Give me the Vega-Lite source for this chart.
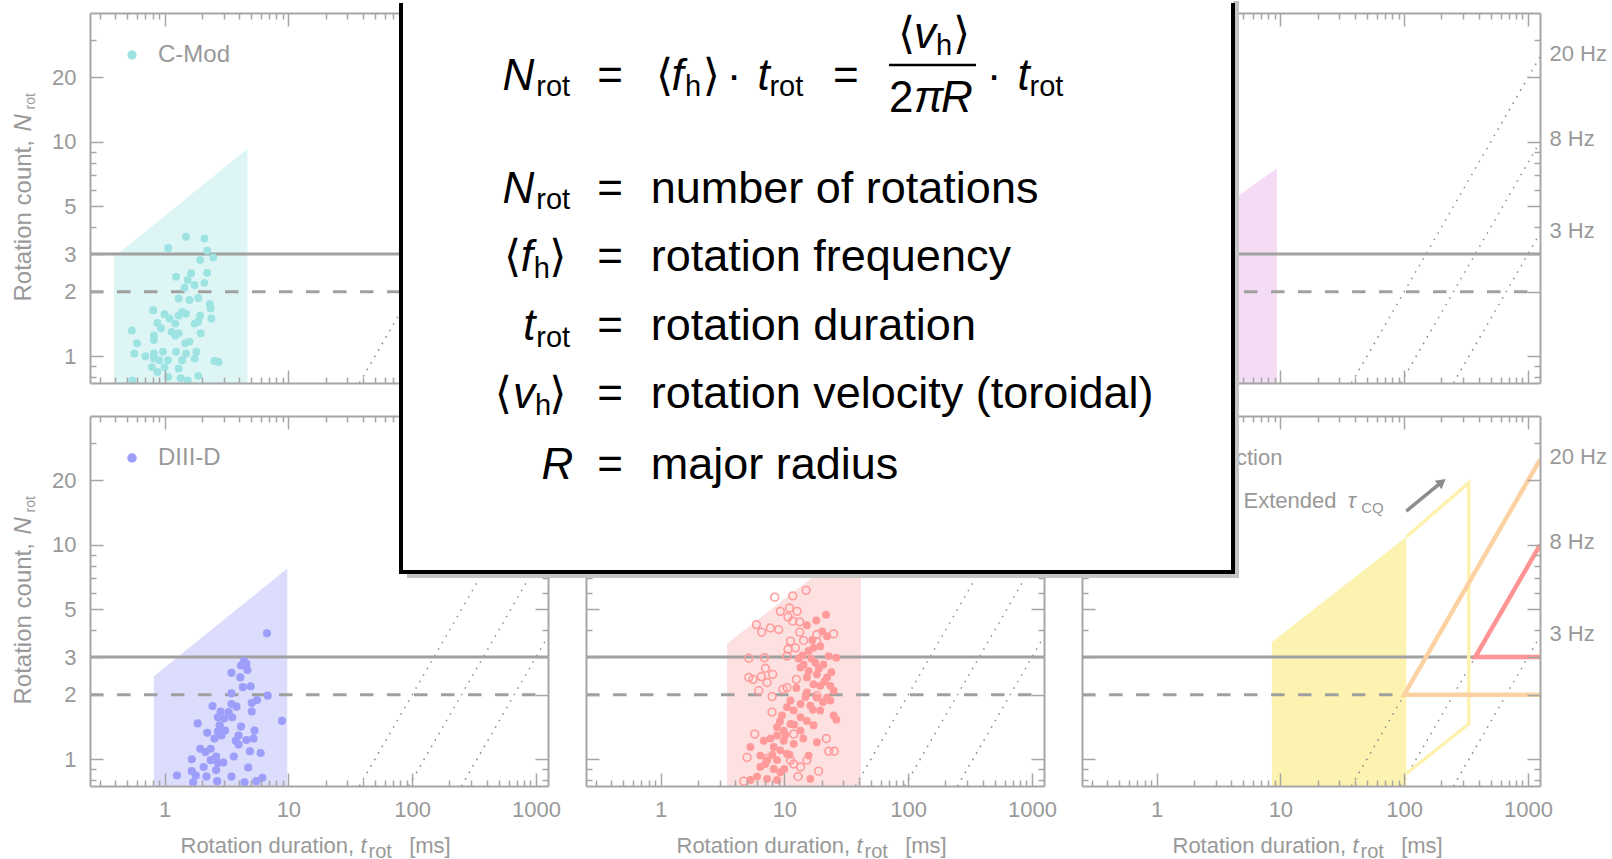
{
"$schema":"https://vega.github.io/schema/vega-lite/v6.json",
"background":"white",
"padding":{"left":11,"top":0,"right":0,"bottom":0},
"config":{"view":{"stroke":null},"font":"Liberation Sans",
 "axis":{"domainColor":"#a6a6a6","domainWidth":2,"tickColor":"#a6a6a6","tickWidth":1.5,"labelColor":"#999999","titleColor":"#999999","labelFont":"Liberation Sans","titleFont":"Liberation Sans","titleFontWeight":"normal","grid":false,"labelFlush":false,"labelOverlap":false}},
"datasets":{
 "hlines":[{"n":3,"style":"solid"},{"n":2,"style":"dashed"}],
 "freq":[{"f":"20 Hz","t":37.5,"n":0.75},{"f":"20 Hz","t":1250,"n":25},{"f":"8 Hz","t":93.75,"n":0.75},{"f":"8 Hz","t":1250,"n":10},{"f":"3 Hz","t":250,"n":0.75},{"f":"3 Hz","t":1250,"n":3.75}],
 "cmodArea":[{"t":0.39,"n":2.9},{"t":4.67,"n":9.3}],
 "cmod":[{"t":1.49,"n":3.61},{"t":2.10,"n":3.54},{"t":1.07,"n":3.20},{"t":2.21,"n":3.11},{"t":2.48,"n":2.89},{"t":1.94,"n":2.81},{"t":1.24,"n":2.35},{"t":1.64,"n":2.44},{"t":2.21,"n":2.45},{"t":1.54,"n":2.27},{"t":2.10,"n":2.20},{"t":1.75,"n":2.15},{"t":1.45,"n":2.09},{"t":1.30,"n":1.86},{"t":1.87,"n":1.87},{"t":1.59,"n":1.83},{"t":2.32,"n":1.75},{"t":2.36,"n":1.67},{"t":0.81,"n":1.64},{"t":1.00,"n":1.57},{"t":1.39,"n":1.61},{"t":1.30,"n":1.55},{"t":1.49,"n":1.58},{"t":1.94,"n":1.55},{"t":1.10,"n":1.50},{"t":2.39,"n":1.50},{"t":0.876,"n":1.43},{"t":1.87,"n":1.45},{"t":1.75,"n":1.42},{"t":1.22,"n":1.42},{"t":0.936,"n":1.35},{"t":0.544,"n":1.32},{"t":1.14,"n":1.30},{"t":1.30,"n":1.28},{"t":0.82,"n":1.25},{"t":1.22,"n":1.25},{"t":1.96,"n":1.28},{"t":0.82,"n":1.19},{"t":1.47,"n":1.15},{"t":1.59,"n":1.17},{"t":0.60,"n":1.15},{"t":0.57,"n":1.03},{"t":0.70,"n":1.00},{"t":0.82,"n":1.03},{"t":0.97,"n":1.05},{"t":1.24,"n":1.05},{"t":1.49,"n":1.03},{"t":1.81,"n":1.05},{"t":0.82,"n":0.975},{"t":0.906,"n":0.958},{"t":1.07,"n":0.958},{"t":1.39,"n":0.958},{"t":1.75,"n":0.975},{"t":2.53,"n":0.951},{"t":2.73,"n":0.941},{"t":0.79,"n":0.89},{"t":1.00,"n":0.89},{"t":0.876,"n":0.845},{"t":1.30,"n":0.876},{"t":0.55,"n":0.77},{"t":1.07,"n":0.80},{"t":1.35,"n":0.79},{"t":1.87,"n":0.81},{"t":1.54,"n":0.77}],
 "diiidArea":[{"t":0.82,"n":2.44},{"t":9.8,"n":7.76}],
 "diiid":[{"t":6.72,"n":3.87},{"t":4.37,"n":2.87},{"t":4.58,"n":2.79},{"t":4.15,"n":2.74},{"t":4.67,"n":2.61},{"t":3.47,"n":2.53},{"t":4.09,"n":2.41},{"t":4.29,"n":2.17},{"t":4.96,"n":2.19},{"t":3.47,"n":2.03},{"t":6.81,"n":1.98},{"t":5.59,"n":1.89},{"t":5.06,"n":1.83},{"t":2.44,"n":1.77},{"t":3.81,"n":1.76},{"t":3.47,"n":1.81},{"t":2.84,"n":1.67},{"t":3.29,"n":1.66},{"t":5.06,"n":1.67},{"t":2.70,"n":1.57},{"t":3.04,"n":1.55},{"t":3.52,"n":1.57},{"t":8.88,"n":1.51},{"t":1.85,"n":1.47},{"t":2.79,"n":1.44},{"t":4.15,"n":1.42},{"t":3.08,"n":1.36},{"t":2.70,"n":1.35},{"t":5.33,"n":1.36},{"t":2.21,"n":1.33},{"t":3.96,"n":1.29},{"t":2.88,"n":1.29},{"t":2.53,"n":1.25},{"t":3.76,"n":1.22},{"t":4.58,"n":1.23},{"t":5.23,"n":1.25},{"t":3.96,"n":1.17},{"t":1.94,"n":1.12},{"t":2.36,"n":1.12},{"t":4.89,"n":1.09},{"t":5.97,"n":1.07},{"t":2.14,"n":1.08},{"t":3.63,"n":1.03},{"t":2.61,"n":1.03},{"t":2.36,"n":0.99},{"t":1.66,"n":1.0},{"t":2.70,"n":0.96},{"t":2.98,"n":0.965},{"t":2.07,"n":0.92},{"t":4.74,"n":0.915},{"t":1.66,"n":0.88},{"t":2.61,"n":0.89},{"t":1.26,"n":0.84},{"t":1.79,"n":0.84},{"t":2.18,"n":0.83},{"t":3.47,"n":0.83},{"t":6.17,"n":0.82},{"t":2.66,"n":0.79},{"t":1.70,"n":0.78},{"t":4.43,"n":0.78},{"t":5.51,"n":0.79}],
 "midArea":[{"t":3.45,"n":3.47},{"t":41.5,"n":10.6}],
 "midOpen":[{"t":8.36,"n":5.71},{"t":11.7,"n":5.79},{"t":15.0,"n":6.14},{"t":9.28,"n":4.90},{"t":11.0,"n":5.08},{"t":12.65,"n":4.90},{"t":10.7,"n":4.61},{"t":11.7,"n":4.41},{"t":13.3,"n":4.38},{"t":5.95,"n":4.25},{"t":6.56,"n":3.92},{"t":7.71,"n":4.10},{"t":9.00,"n":4.03},{"t":13.3,"n":3.92},{"t":11.2,"n":3.56},{"t":14.3,"n":3.58},{"t":18.3,"n":3.82},{"t":25.0,"n":3.85},{"t":10.7,"n":3.26},{"t":12.3,"n":3.31},{"t":10.5,"n":3.03},{"t":5.16,"n":2.96},{"t":6.90,"n":2.98},{"t":18.3,"n":3.53},{"t":5.16,"n":2.41},{"t":5.59,"n":2.36},{"t":6.52,"n":2.43},{"t":8.05,"n":2.49},{"t":7.03,"n":2.66},{"t":7.25,"n":2.28},{"t":6.21,"n":2.09},{"t":12.5,"n":2.36},{"t":10.5,"n":2.16},{"t":9.75,"n":2.12},{"t":18.3,"n":1.98},{"t":7.96,"n":1.96},{"t":7.96,"n":1.66},{"t":5.76,"n":1.31},{"t":11.9,"n":1.31},{"t":21.8,"n":1.25},{"t":5.00,"n":1.02},{"t":22.8,"n":1.09},{"t":25.3,"n":1.09},{"t":18.9,"n":0.88},{"t":12.9,"n":0.83},{"t":4.70,"n":0.79},{"t":15.2,"n":0.99},{"t":7.25,"n":1.01},{"t":11.9,"n":0.95},{"t":13.5,"n":0.92},{"t":11.2,"n":0.99}],
 "midFilled":[{"t":21.7,"n":4.73},{"t":18.1,"n":4.44},{"t":15.2,"n":4.22},{"t":22.1,"n":3.75},{"t":17.2,"n":3.31},{"t":19.5,"n":3.37},{"t":15.7,"n":3.20},{"t":22.8,"n":3.03},{"t":26.3,"n":2.98},{"t":14.3,"n":2.77},{"t":17.8,"n":2.82},{"t":20.7,"n":2.77},{"t":13.5,"n":2.68},{"t":15.7,"n":2.58},{"t":18.3,"n":2.49},{"t":22.1,"n":2.41},{"t":15.2,"n":2.41},{"t":17.2,"n":2.24},{"t":19.5,"n":2.20},{"t":23.5,"n":2.20},{"t":25.0,"n":2.09},{"t":15.2,"n":2.05},{"t":18.3,"n":1.94},{"t":22.1,"n":1.94},{"t":23.5,"n":1.88},{"t":11.2,"n":1.88},{"t":13.5,"n":1.81},{"t":16.2,"n":1.78},{"t":10.5,"n":1.75},{"t":11.9,"n":1.69},{"t":19.5,"n":1.69},{"t":25.0,"n":1.60},{"t":26.3,"n":1.53},{"t":9.57,"n":1.60},{"t":13.5,"n":1.57},{"t":15.2,"n":1.51},{"t":17.2,"n":1.44},{"t":11.2,"n":1.46},{"t":8.73,"n":1.41},{"t":9.88,"n":1.36},{"t":13.5,"n":1.36},{"t":8.73,"n":1.29},{"t":7.71,"n":1.25},{"t":6.81,"n":1.22},{"t":9.88,"n":1.22},{"t":11.9,"n":1.18},{"t":18.3,"n":1.20},{"t":8.20,"n":1.14},{"t":9.28,"n":1.10},{"t":10.5,"n":1.06},{"t":6.40,"n":1.04},{"t":7.25,"n":0.99},{"t":8.73,"n":0.99},{"t":15.7,"n":1.04},{"t":5.32,"n":1.14},{"t":6.40,"n":0.92},{"t":8.20,"n":0.90},{"t":9.28,"n":0.87},{"t":6.02,"n":0.83},{"t":7.25,"n":0.81},{"t":8.73,"n":0.80},{"t":16.2,"n":0.81},{"t":5.32,"n":0.80},{"t":28.3,"n":7.33},{"t":14.0,"n":3.05},{"t":16.5,"n":2.95},{"t":19.0,"n":2.65},{"t":21.0,"n":2.30},{"t":12.5,"n":2.15},{"t":14.8,"n":1.95},{"t":17.0,"n":1.70},{"t":20.5,"n":1.85},{"t":12.0,"n":1.45},{"t":14.2,"n":1.25},{"t":10.2,"n":1.30},{"t":9.2,"n":1.50},{"t":11.0,"n":1.05},{"t":8.0,"n":1.05},{"t":7.0,"n":0.95},{"t":10.0,"n":0.90},{"t":16.8,"n":3.60},{"t":20.2,"n":3.95},{"t":24.0,"n":2.55},{"t":13.0,"n":2.95}],
 "pinkArea":[{"t":1.0,"n":3.0},{"t":9.4,"n":7.54}],
 "iterArea":[{"t":8.55,"n":3.53},{"t":104,"n":10.9}],
 "iterOutline":[{"i":1,"t":104,"n":10.9},{"i":2,"t":332,"n":19.5},{"i":3,"t":332,"n":1.46},{"i":4,"t":104,"n":0.857}],
 "iterLines":[{"hz":"20 Hz","i":1,"t":1250,"n":2},{"hz":"20 Hz","i":2,"t":100,"n":2},{"hz":"20 Hz","i":3,"t":1250,"n":25},{"hz":"8 Hz","i":1,"t":1250,"n":3},{"hz":"8 Hz","i":2,"t":375,"n":3},{"hz":"8 Hz","i":3,"t":1250,"n":10}],
 "arrow":[{"t":104,"n":14.4},{"t":201.6,"n":19.7}],
 "arrowHead":[{"t":201.6,"n":19.7}],
 "iterText":[{"text":"Extended","t":5.04,"n":14.9},{"text":"τ","t":35,"n":14.9},{"text":"CQ","t":45,"n":14.1}],
 "iterLabel":[{"label":"ITER projection","dotT":0.40,"t":0.62,"n":25.5}],
 "boxShadow":[{"x":6,"x2":838,"y":2,"y2":579}],
 "boxRect":[{"x":0,"x2":832,"y":2,"y2":573}],
 "boxBorder":[{"x":0,"x2":0,"y":4,"y2":575},{"x":832,"x2":832,"y":4,"y2":575},{"x":-2,"x2":834,"y":573,"y2":573}],
 "boxRule":[{"x":488,"x2":575,"y":66}],
 "boxText":[
  {"k":"it","s":"N","x":101.4,"y":91},{"k":"sub","s":"rot","x":135.3,"y":97},{"k":"eq","s":"=","x":209,"y":91},
  {"k":"br","s":"⟨","x":254.9,"y":91},{"k":"it","s":"f","x":270.5,"y":91},{"k":"sub","s":"h","x":284,"y":97},{"k":"br","s":"⟩","x":301.8,"y":91},
  {"k":"eq","s":"·","x":333,"y":91},{"k":"it","s":"t","x":356.4,"y":91},{"k":"sub","s":"rot","x":368.4,"y":97},{"k":"eq","s":"=","x":444.9,"y":91},
  {"k":"br","s":"⟨","x":496.9,"y":49.4},{"k":"it","s":"v","x":513,"y":49.4},{"k":"sub","s":"h","x":535,"y":56},{"k":"br","s":"⟩","x":552,"y":49.4},
  {"k":"rm","s":"2","x":488,"y":113},{"k":"it","s":"π","x":513,"y":113},{"k":"it","s":"R","x":540,"y":113},
  {"k":"eq","s":"·","x":593,"y":91},{"k":"it","s":"t","x":616.5,"y":91},{"k":"sub","s":"rot","x":628.5,"y":97},
  {"k":"it","s":"N","x":101.4,"y":203.5},{"k":"sub","s":"rot","x":135.3,"y":210},{"k":"eq","s":"=","x":209,"y":203.5},{"k":"def","s":"number of rotations","x":249.7,"y":203.5},
  {"k":"br","s":"⟨","x":102.9,"y":272},{"k":"it","s":"f","x":119.7,"y":272},{"k":"sub","s":"h","x":132.7,"y":279},{"k":"br","s":"⟩","x":148.3,"y":272},{"k":"eq","s":"=","x":209,"y":272},{"k":"def","s":"rotation frequency","x":249.7,"y":272},
  {"k":"it","s":"t","x":122.3,"y":341.4},{"k":"sub","s":"rot","x":135.3,"y":348},{"k":"eq","s":"=","x":209,"y":341.4},{"k":"def","s":"rotation duration","x":249.7,"y":341.4},
  {"k":"br","s":"⟨","x":93.7,"y":409},{"k":"it","s":"v","x":111.9,"y":409},{"k":"sub","s":"h","x":134,"y":416},{"k":"br","s":"⟩","x":148.3,"y":409},{"k":"eq","s":"=","x":209,"y":409},{"k":"def","s":"rotation velocity (toroidal)","x":249.7,"y":409},
  {"k":"it","s":"R","x":140.5,"y":480},{"k":"eq","s":"=","x":209,"y":480},{"k":"def","s":"major radius","x":249.7,"y":480}
 ]
},
"concat":[
  {"width":458,"height":370,"resolve":{"axis":{"x":"independent","y":"independent"}},
   "layer":[
    {"data":{"name":"cmodArea"},"mark":{"type":"area","color":"#ddf5f5","clip":true},"encoding":{"x":{"field":"t","type":"quantitative","scale":{"type":"log","domain":[0.25,1250],"nice":false},"axis":{"orient":"bottom","values":[0.3,0.4,0.5,0.6,0.7,0.8,0.9,1,2,3,4,5,6,7,8,9,10,20,30,40,50,60,70,80,90,100,200,300,400,500,600,700,800,900,1000],"labels":false,"title":null,"zindex":1,"tickSize":{"condition":{"test":"indexof([1,10,100,1000], datum.value) >= 0","value":-13},"value":-6}}},"y":{"field":"n","type":"quantitative","scale":{"type":"log","domain":[0.75,40],"nice":false},"axis":{"orient":"left","values":[0.8,0.9,1,2,3,4,5,6,7,8,9,10,20,30],"labels":false,"title":null,"zindex":1,"tickSize":{"condition":{"test":"indexof([1,2,3,5,10,20], datum.value) >= 0","value":-13},"value":-6}}},"y2":{"datum":0.5}}},
    {"data":{"name":"freq"},"mark":{"type":"line","color":"#8a8a8a","strokeWidth":1.5,"strokeDash":[1.5,6],"clip":true},"encoding":{"x":{"field":"t","type":"quantitative","axis":{"orient":"top","values":[0.3,0.4,0.5,0.6,0.7,0.8,0.9,1,2,3,4,5,6,7,8,9,10,20,30,40,50,60,70,80,90,100,200,300,400,500,600,700,800,900,1000],"labels":false,"title":null,"zindex":1,"tickSize":{"condition":{"test":"indexof([1,10,100,1000], datum.value) >= 0","value":-13},"value":-6}}},"y":{"field":"n","type":"quantitative","axis":{"orient":"right","values":[0.8,0.9,1,2,3,4,5,6,7,8,9,10,20,30],"labels":false,"title":null,"zindex":1,"tickSize":{"condition":{"test":"indexof([1,2,3,5,10,20], datum.value) >= 0","value":-13},"value":-6}}},"detail":{"field":"f"}}},
    {"data":{"name":"hlines"},"transform":[{"filter":"datum.style == 'solid'"}],"mark":{"type":"rule","color":"#a0a0a0","strokeWidth":3},"encoding":{"x":{"datum":0.25,"type":"quantitative","axis":null},"x2":{"datum":1250},"y":{"field":"n","type":"quantitative","axis":{"orient":"left","values":[1,2,3,5,10,20],"ticks":false,"domain":false,"labelPadding":14,"labelFontSize":22,"labelExpr":"'' + datum.value","title":"Rotation count,","titleX":-60,"titleY":288,"titleAngle":270,"titleAlign":"left","titleBaseline":"alphabetic","titleFontSize":24}}}},
    {"data":{"name":"hlines"},"transform":[{"filter":"datum.style == 'dashed'"}],"mark":{"type":"rule","color":"#a0a0a0","strokeWidth":3,"strokeDash":[13.5,13.5]},"encoding":{"x":{"datum":0.25,"type":"quantitative","axis":null},"x2":{"datum":1250},"y":{"field":"n","type":"quantitative","axis":{"orient":"left","values":[],"labels":false,"ticks":false,"domain":false,"title":"rot","titleX":-56,"titleY":96,"titleAngle":270,"titleAlign":"left","titleBaseline":"alphabetic","titleFontSize":14}}}},
    {"data":{"name":"cmod"},"mark":{"type":"circle","size":62,"opacity":1,"clip":true},"encoding":{"x":{"field":"t","type":"quantitative","axis":null},"y":{"field":"n","type":"quantitative","axis":{"orient":"left","values":[],"labels":false,"ticks":false,"domain":false,"title":"N","titleX":-60,"titleY":118,"titleAngle":270,"titleAlign":"left","titleBaseline":"alphabetic","titleFontSize":24,"titleFontStyle":"italic"}},"color":{"datum":"C-Mod","scale":{"range":["#9ce3e1"]},"legend":{"orient":"none","legendX":30,"legendY":30,"title":null,"padding":0,"symbolType":"circle","symbolSize":90,"symbolStrokeWidth":0,"labelFontSize":24,"labelColor":"#999999","labelOffset":14,"labelFont":"Liberation Sans"}}}}
   ]},
  {"width":458,"height":370,"resolve":{"axis":{"x":"independent","y":"independent"}},
   "layer":[
    {"data":{"name":"freq"},"mark":{"type":"line","color":"#8a8a8a","strokeWidth":1.5,"strokeDash":[1.5,6],"clip":true},"encoding":{"x":{"field":"t","type":"quantitative","scale":{"type":"log","domain":[0.25,1250],"nice":false},"axis":{"orient":"bottom","values":[0.3,0.4,0.5,0.6,0.7,0.8,0.9,1,2,3,4,5,6,7,8,9,10,20,30,40,50,60,70,80,90,100,200,300,400,500,600,700,800,900,1000],"labels":false,"title":null,"zindex":1,"tickSize":{"condition":{"test":"indexof([1,10,100,1000], datum.value) >= 0","value":-13},"value":-6}}},"y":{"field":"n","type":"quantitative","scale":{"type":"log","domain":[0.75,40],"nice":false},"axis":{"orient":"left","values":[0.8,0.9,1,2,3,4,5,6,7,8,9,10,20,30],"labels":false,"title":null,"zindex":1,"tickSize":{"condition":{"test":"indexof([1,2,3,5,10,20], datum.value) >= 0","value":-13},"value":-6}}},"detail":{"field":"f"}}},
    {"data":{"name":"hlines"},"transform":[{"filter":"datum.style == 'solid'"}],"mark":{"type":"rule","color":"#a0a0a0","strokeWidth":3},"encoding":{"x":{"datum":0.25,"type":"quantitative","axis":{"orient":"top","values":[0.3,0.4,0.5,0.6,0.7,0.8,0.9,1,2,3,4,5,6,7,8,9,10,20,30,40,50,60,70,80,90,100,200,300,400,500,600,700,800,900,1000],"labels":false,"title":null,"zindex":1,"tickSize":{"condition":{"test":"indexof([1,10,100,1000], datum.value) >= 0","value":-13},"value":-6}}},"x2":{"datum":1250},"y":{"field":"n","type":"quantitative","axis":{"orient":"right","values":[0.8,0.9,1,2,3,4,5,6,7,8,9,10,20,30],"labels":false,"title":null,"zindex":1,"tickSize":{"condition":{"test":"indexof([1,2,3,5,10,20], datum.value) >= 0","value":-13},"value":-6}}}}},
    {"data":{"name":"hlines"},"transform":[{"filter":"datum.style == 'dashed'"}],"mark":{"type":"rule","color":"#a0a0a0","strokeWidth":3,"strokeDash":[13.5,13.5]},"encoding":{"x":{"datum":0.25,"type":"quantitative","axis":null},"x2":{"datum":1250},"y":{"field":"n","type":"quantitative","axis":null}}}
   ]},
  {"width":458,"height":370,"resolve":{"axis":{"x":"independent","y":"independent"}},
   "layer":[
    {"data":{"name":"pinkArea"},"mark":{"type":"area","color":"#f5dcf5","clip":true},"encoding":{"x":{"field":"t","type":"quantitative","scale":{"type":"log","domain":[0.25,1250],"nice":false},"axis":{"orient":"bottom","values":[0.3,0.4,0.5,0.6,0.7,0.8,0.9,1,2,3,4,5,6,7,8,9,10,20,30,40,50,60,70,80,90,100,200,300,400,500,600,700,800,900,1000],"labels":false,"title":null,"zindex":1,"tickSize":{"condition":{"test":"indexof([1,10,100,1000], datum.value) >= 0","value":-13},"value":-6}}},"y":{"field":"n","type":"quantitative","scale":{"type":"log","domain":[0.75,40],"nice":false},"axis":{"orient":"left","values":[0.8,0.9,1,2,3,4,5,6,7,8,9,10,20,30],"labels":false,"title":null,"zindex":1,"tickSize":{"condition":{"test":"indexof([1,2,3,5,10,20], datum.value) >= 0","value":-13},"value":-6}}},"y2":{"datum":0.5}}},
    {"data":{"name":"freq"},"mark":{"type":"line","color":"#8a8a8a","strokeWidth":1.5,"strokeDash":[1.5,6],"clip":true},"encoding":{"x":{"field":"t","type":"quantitative","axis":{"orient":"top","values":[0.3,0.4,0.5,0.6,0.7,0.8,0.9,1,2,3,4,5,6,7,8,9,10,20,30,40,50,60,70,80,90,100,200,300,400,500,600,700,800,900,1000],"labels":false,"title":null,"zindex":1,"tickSize":{"condition":{"test":"indexof([1,10,100,1000], datum.value) >= 0","value":-13},"value":-6}}},"y":{"field":"n","type":"quantitative","axis":{"orient":"right","values":[0.8,0.9,1,2,3,4,5,6,7,8,9,10,20,30],"labels":false,"title":null,"zindex":1,"tickSize":{"condition":{"test":"indexof([1,2,3,5,10,20], datum.value) >= 0","value":-13},"value":-6}}},"detail":{"field":"f"}}},
    {"data":{"name":"hlines"},"transform":[{"filter":"datum.style == 'solid'"}],"mark":{"type":"rule","color":"#a0a0a0","strokeWidth":3},"encoding":{"x":{"datum":0.25,"type":"quantitative","axis":null},"x2":{"datum":1250},"y":{"field":"n","type":"quantitative","axis":{"orient":"right","values":[3.75,10,25],"ticks":false,"domain":false,"labelPadding":9,"labelOffset":-3,"labelFontSize":22,"labelExpr":"datum.value == 25 ? '20 Hz' : datum.value == 10 ? '8 Hz' : '3 Hz'","title":null}}}},
    {"data":{"name":"hlines"},"transform":[{"filter":"datum.style == 'dashed'"}],"mark":{"type":"rule","color":"#a0a0a0","strokeWidth":3,"strokeDash":[13.5,13.5]},"encoding":{"x":{"datum":0.25,"type":"quantitative","axis":null},"x2":{"datum":1250},"y":{"field":"n","type":"quantitative","axis":null}}}
   ]},
  {"width":458,"height":370,"resolve":{"axis":{"x":"independent","y":"independent"}},
   "layer":[
    {"data":{"name":"diiidArea"},"mark":{"type":"area","color":"#dcdcfc","clip":true},"encoding":{"x":{"field":"t","type":"quantitative","scale":{"type":"log","domain":[0.25,1250],"nice":false},"axis":{"orient":"bottom","values":[0.3,0.4,0.5,0.6,0.7,0.8,0.9,1,2,3,4,5,6,7,8,9,10,20,30,40,50,60,70,80,90,100,200,300,400,500,600,700,800,900,1000],"labels":false,"title":null,"zindex":1,"tickSize":{"condition":{"test":"indexof([1,10,100,1000], datum.value) >= 0","value":-13},"value":-6}}},"y":{"field":"n","type":"quantitative","scale":{"type":"log","domain":[0.75,40],"nice":false},"axis":{"orient":"left","values":[0.8,0.9,1,2,3,4,5,6,7,8,9,10,20,30],"labels":false,"title":null,"zindex":1,"tickSize":{"condition":{"test":"indexof([1,2,3,5,10,20], datum.value) >= 0","value":-13},"value":-6}}},"y2":{"datum":0.5}}},
    {"data":{"name":"freq"},"mark":{"type":"line","color":"#8a8a8a","strokeWidth":1.5,"strokeDash":[1.5,6],"clip":true},"encoding":{"x":{"field":"t","type":"quantitative","axis":{"orient":"top","values":[0.3,0.4,0.5,0.6,0.7,0.8,0.9,1,2,3,4,5,6,7,8,9,10,20,30,40,50,60,70,80,90,100,200,300,400,500,600,700,800,900,1000],"labels":false,"title":null,"zindex":1,"tickSize":{"condition":{"test":"indexof([1,10,100,1000], datum.value) >= 0","value":-13},"value":-6}}},"y":{"field":"n","type":"quantitative","axis":{"orient":"right","values":[0.8,0.9,1,2,3,4,5,6,7,8,9,10,20,30],"labels":false,"title":null,"zindex":1,"tickSize":{"condition":{"test":"indexof([1,2,3,5,10,20], datum.value) >= 0","value":-13},"value":-6}}},"detail":{"field":"f"}}},
    {"data":{"name":"hlines"},"transform":[{"filter":"datum.style == 'solid'"}],"mark":{"type":"rule","color":"#a0a0a0","strokeWidth":3},"encoding":{"x":{"datum":0.25,"type":"quantitative","axis":{"orient":"bottom","values":[],"labels":false,"ticks":false,"domain":false,"title":"t","titleX":270,"titleY":66,"titleAlign":"left","titleBaseline":"alphabetic","titleFontSize":22,"titleFontStyle":"italic"}},"x2":{"datum":1250},"y":{"field":"n","type":"quantitative","axis":{"orient":"left","values":[1,2,3,5,10,20],"ticks":false,"domain":false,"labelPadding":14,"labelFontSize":22,"labelExpr":"'' + datum.value","title":"Rotation count,","titleX":-60,"titleY":288,"titleAngle":270,"titleAlign":"left","titleBaseline":"alphabetic","titleFontSize":24}}}},
    {"data":{"name":"hlines"},"transform":[{"filter":"datum.style == 'dashed'"}],"mark":{"type":"rule","color":"#a0a0a0","strokeWidth":3,"strokeDash":[13.5,13.5]},"encoding":{"x":{"datum":0.25,"type":"quantitative","axis":{"orient":"bottom","values":[],"labels":false,"ticks":false,"domain":false,"title":"rot","titleX":278,"titleY":71,"titleAlign":"left","titleBaseline":"alphabetic","titleFontSize":20}},"x2":{"datum":1250},"y":{"field":"n","type":"quantitative","axis":{"orient":"left","values":[],"labels":false,"ticks":false,"domain":false,"title":"rot","titleX":-56,"titleY":96,"titleAngle":270,"titleAlign":"left","titleBaseline":"alphabetic","titleFontSize":14}}}},
    {"data":{"name":"diiid"},"mark":{"type":"circle","size":66,"opacity":1,"clip":true},"encoding":{"x":{"field":"t","type":"quantitative","axis":{"orient":"bottom","values":[1,10,100,1000],"ticks":false,"domain":false,"labelPadding":13,"labelFontSize":22,"labelExpr":"'' + datum.value","title":"Rotation duration,\u00a0\u00a0\u00a0\u00a0\u00a0\u00a0\u00a0\u00a0\u00a0[ms]","titleX":90,"titleY":66,"titleAlign":"left","titleBaseline":"alphabetic","titleFontSize":22}},"y":{"field":"n","type":"quantitative","axis":{"orient":"left","values":[],"labels":false,"ticks":false,"domain":false,"title":"N","titleX":-60,"titleY":118,"titleAngle":270,"titleAlign":"left","titleBaseline":"alphabetic","titleFontSize":24,"titleFontStyle":"italic"}},"color":{"datum":"DIII-D","scale":{"range":["#9d9dfa"]},"legend":{"orient":"none","legendX":30,"legendY":30,"title":null,"padding":0,"symbolType":"circle","symbolSize":90,"symbolStrokeWidth":0,"labelFontSize":24,"labelColor":"#999999","labelOffset":14,"labelFont":"Liberation Sans"}}}}
   ]},
  {"width":458,"height":370,"resolve":{"axis":{"x":"independent","y":"independent"}},
   "layer":[
    {"data":{"name":"midArea"},"mark":{"type":"area","color":"#fde0e0","clip":true},"encoding":{"x":{"field":"t","type":"quantitative","scale":{"type":"log","domain":[0.25,1250],"nice":false},"axis":{"orient":"bottom","values":[0.3,0.4,0.5,0.6,0.7,0.8,0.9,1,2,3,4,5,6,7,8,9,10,20,30,40,50,60,70,80,90,100,200,300,400,500,600,700,800,900,1000],"labels":false,"title":null,"zindex":1,"tickSize":{"condition":{"test":"indexof([1,10,100,1000], datum.value) >= 0","value":-13},"value":-6}}},"y":{"field":"n","type":"quantitative","scale":{"type":"log","domain":[0.75,40],"nice":false},"axis":{"orient":"left","values":[0.8,0.9,1,2,3,4,5,6,7,8,9,10,20,30],"labels":false,"title":null,"zindex":1,"tickSize":{"condition":{"test":"indexof([1,2,3,5,10,20], datum.value) >= 0","value":-13},"value":-6}}},"y2":{"datum":0.5}}},
    {"data":{"name":"freq"},"mark":{"type":"line","color":"#8a8a8a","strokeWidth":1.5,"strokeDash":[1.5,6],"clip":true},"encoding":{"x":{"field":"t","type":"quantitative","axis":{"orient":"top","values":[0.3,0.4,0.5,0.6,0.7,0.8,0.9,1,2,3,4,5,6,7,8,9,10,20,30,40,50,60,70,80,90,100,200,300,400,500,600,700,800,900,1000],"labels":false,"title":null,"zindex":1,"tickSize":{"condition":{"test":"indexof([1,10,100,1000], datum.value) >= 0","value":-13},"value":-6}}},"y":{"field":"n","type":"quantitative","axis":{"orient":"right","values":[0.8,0.9,1,2,3,4,5,6,7,8,9,10,20,30],"labels":false,"title":null,"zindex":1,"tickSize":{"condition":{"test":"indexof([1,2,3,5,10,20], datum.value) >= 0","value":-13},"value":-6}}},"detail":{"field":"f"}}},
    {"data":{"name":"hlines"},"transform":[{"filter":"datum.style == 'solid'"}],"mark":{"type":"rule","color":"#a0a0a0","strokeWidth":3},"encoding":{"x":{"datum":0.25,"type":"quantitative","axis":{"orient":"bottom","values":[],"labels":false,"ticks":false,"domain":false,"title":"t","titleX":270,"titleY":66,"titleAlign":"left","titleBaseline":"alphabetic","titleFontSize":22,"titleFontStyle":"italic"}},"x2":{"datum":1250},"y":{"field":"n","type":"quantitative","axis":null}}},
    {"data":{"name":"hlines"},"transform":[{"filter":"datum.style == 'dashed'"}],"mark":{"type":"rule","color":"#a0a0a0","strokeWidth":3,"strokeDash":[13.5,13.5]},"encoding":{"x":{"datum":0.25,"type":"quantitative","axis":{"orient":"bottom","values":[],"labels":false,"ticks":false,"domain":false,"title":"rot","titleX":278,"titleY":71,"titleAlign":"left","titleBaseline":"alphabetic","titleFontSize":20}},"x2":{"datum":1250},"y":{"field":"n","type":"quantitative","axis":null}}},
    {"data":{"name":"midOpen"},"mark":{"type":"point","shape":"circle","filled":false,"size":60,"strokeWidth":1.6,"color":"#ff9a9a","opacity":1,"clip":true},"encoding":{"x":{"field":"t","type":"quantitative","axis":{"orient":"bottom","values":[1,10,100,1000],"ticks":false,"domain":false,"labelPadding":13,"labelFontSize":22,"labelExpr":"'' + datum.value","title":"Rotation duration,\u00a0\u00a0\u00a0\u00a0\u00a0\u00a0\u00a0\u00a0\u00a0[ms]","titleX":90,"titleY":66,"titleAlign":"left","titleBaseline":"alphabetic","titleFontSize":22}},"y":{"field":"n","type":"quantitative","axis":null}}},
    {"data":{"name":"midFilled"},"mark":{"type":"circle","size":62,"color":"#ff9a9a","opacity":1,"clip":true},"encoding":{"x":{"field":"t","type":"quantitative","axis":null},"y":{"field":"n","type":"quantitative","axis":null}}}
   ]},
  {"width":458,"height":370,"resolve":{"scale":{"x":"independent","y":"independent"},"axis":{"x":"independent","y":"independent"}},
   "layer":[
    {"resolve":{"axis":{"x":"independent","y":"independent"}},
     "layer":[
      {"data":{"name":"iterArea"},"mark":{"type":"area","color":"#fdf3b0","clip":true},"encoding":{"x":{"field":"t","type":"quantitative","scale":{"type":"log","domain":[0.25,1250],"nice":false},"axis":{"orient":"bottom","values":[0.3,0.4,0.5,0.6,0.7,0.8,0.9,1,2,3,4,5,6,7,8,9,10,20,30,40,50,60,70,80,90,100,200,300,400,500,600,700,800,900,1000],"labels":false,"title":null,"zindex":1,"tickSize":{"condition":{"test":"indexof([1,10,100,1000], datum.value) >= 0","value":-13},"value":-6}}},"y":{"field":"n","type":"quantitative","scale":{"type":"log","domain":[0.75,40],"nice":false},"axis":{"orient":"left","values":[0.8,0.9,1,2,3,4,5,6,7,8,9,10,20,30],"labels":false,"title":null,"zindex":0,"tickSize":{"condition":{"test":"indexof([1,2,3,5,10,20], datum.value) >= 0","value":-13},"value":-6}}},"y2":{"datum":0.5}}},
      {"data":{"name":"freq"},"mark":{"type":"line","color":"#8a8a8a","strokeWidth":1.5,"strokeDash":[1.5,6],"clip":true},"encoding":{"x":{"field":"t","type":"quantitative","axis":{"orient":"top","values":[0.3,0.4,0.5,0.6,0.7,0.8,0.9,1,2,3,4,5,6,7,8,9,10,20,30,40,50,60,70,80,90,100,200,300,400,500,600,700,800,900,1000],"labels":false,"title":null,"zindex":0,"tickSize":{"condition":{"test":"indexof([1,10,100,1000], datum.value) >= 0","value":-13},"value":-6}}},"y":{"field":"n","type":"quantitative","axis":{"orient":"right","values":[0.8,0.9,1,2,3,4,5,6,7,8,9,10,20,30],"labels":false,"title":null,"zindex":1,"tickSize":{"condition":{"test":"indexof([1,2,3,5,10,20], datum.value) >= 0","value":-13},"value":-6}}},"detail":{"field":"f"}}},
      {"data":{"name":"hlines"},"transform":[{"filter":"datum.style == 'solid'"}],"mark":{"type":"rule","color":"#a0a0a0","strokeWidth":3},"encoding":{"x":{"datum":0.25,"type":"quantitative","axis":{"orient":"bottom","values":[],"labels":false,"ticks":false,"domain":false,"title":"t","titleX":270,"titleY":66,"titleAlign":"left","titleBaseline":"alphabetic","titleFontSize":22,"titleFontStyle":"italic"}},"x2":{"datum":1250},"y":{"field":"n","type":"quantitative","axis":{"orient":"right","values":[3.75,10,25],"ticks":false,"domain":false,"labelPadding":9,"labelOffset":-3,"labelFontSize":22,"labelExpr":"datum.value == 25 ? '20 Hz' : datum.value == 10 ? '8 Hz' : '3 Hz'","title":null}}}},
      {"data":{"name":"hlines"},"transform":[{"filter":"datum.style == 'dashed'"}],"mark":{"type":"rule","color":"#a0a0a0","strokeWidth":3,"strokeDash":[13.5,13.5]},"encoding":{"x":{"datum":0.25,"type":"quantitative","axis":{"orient":"bottom","values":[],"labels":false,"ticks":false,"domain":false,"title":"rot","titleX":278,"titleY":71,"titleAlign":"left","titleBaseline":"alphabetic","titleFontSize":20}},"x2":{"datum":1250},"y":{"field":"n","type":"quantitative","axis":null}}},
      {"data":{"name":"iterOutline"},"mark":{"type":"line","color":"#fff2ae","strokeWidth":3.5,"clip":true},"encoding":{"x":{"field":"t","type":"quantitative","axis":{"orient":"bottom","values":[1,10,100,1000],"ticks":false,"domain":false,"labelPadding":13,"labelFontSize":22,"labelExpr":"'' + datum.value","title":"Rotation duration,\u00a0\u00a0\u00a0\u00a0\u00a0\u00a0\u00a0\u00a0\u00a0[ms]","titleX":90,"titleY":66,"titleAlign":"left","titleBaseline":"alphabetic","titleFontSize":22}},"y":{"field":"n","type":"quantitative","axis":null},"order":{"field":"i","type":"quantitative"}}},
      {"data":{"name":"iterLines"},"mark":{"type":"line","strokeWidth":4.5,"clip":true},"encoding":{"x":{"field":"t","type":"quantitative","axis":null},"y":{"field":"n","type":"quantitative","axis":null},"detail":{"field":"hz"},"order":{"field":"i","type":"quantitative"},"stroke":{"field":"hz","type":"nominal","scale":{"domain":["20 Hz","8 Hz"],"range":["#fcd2a2","#ff9494"]},"legend":null}}},
      {"data":{"name":"arrow"},"mark":{"type":"line","color":"#8c8c8c","strokeWidth":3.5},"encoding":{"x":{"field":"t","type":"quantitative","axis":null},"y":{"field":"n","type":"quantitative","axis":null}}},
      {"data":{"name":"arrowHead"},"mark":{"type":"point","shape":"triangle-up","filled":true,"size":120,"angle":51,"color":"#8c8c8c","opacity":1},"encoding":{"x":{"field":"t","type":"quantitative","axis":null},"y":{"field":"n","type":"quantitative","axis":null}}},
      {"data":{"name":"iterText"},"transform":[{"filter":"datum.text == 'Extended'"}],"mark":{"type":"text","align":"left","baseline":"alphabetic","fontSize":22,"color":"#999999","font":"Liberation Sans"},"encoding":{"x":{"field":"t","type":"quantitative","axis":null},"y":{"field":"n","type":"quantitative","axis":null},"text":{"field":"text"}}},
      {"data":{"name":"iterText"},"transform":[{"filter":"datum.text == 'τ'"}],"mark":{"type":"text","align":"left","baseline":"alphabetic","fontSize":22,"fontStyle":"italic","color":"#999999","font":"Liberation Sans"},"encoding":{"x":{"field":"t","type":"quantitative","axis":null},"y":{"field":"n","type":"quantitative","axis":null},"text":{"field":"text"}}},
      {"data":{"name":"iterText"},"transform":[{"filter":"datum.text == 'CQ'"}],"mark":{"type":"text","align":"left","baseline":"alphabetic","fontSize":15,"color":"#999999","font":"Liberation Sans"},"encoding":{"x":{"field":"t","type":"quantitative","axis":null},"y":{"field":"n","type":"quantitative","axis":null},"text":{"field":"text"}}},
      {"data":{"name":"iterLabel"},"mark":{"type":"circle","size":90,"color":"#f5e36a","opacity":1},"encoding":{"x":{"field":"dotT","type":"quantitative","axis":null},"y":{"field":"n","type":"quantitative","axis":null}}},
      {"data":{"name":"iterLabel"},"mark":{"type":"text","align":"left","baseline":"middle","fontSize":22,"color":"#999999","font":"Liberation Sans"},"encoding":{"x":{"field":"t","type":"quantitative","axis":null},"y":{"field":"n","type":"quantitative","axis":null},"text":{"field":"label"}}}
     ]},
    {"layer":[
      {"data":{"name":"boxShadow"},"mark":{"type":"rect","color":"#c4c4c4","opacity":1},"encoding":{"x":{"field":"x","type":"quantitative","scale":{"domain":[681,1139],"nice":false,"zero":false},"axis":null},"x2":{"field":"x2"},"y":{"field":"y","type":"quantitative","scale":{"domain":[787,417],"nice":false,"zero":false},"axis":null},"y2":{"field":"y2"}}},
      {"data":{"name":"boxRect"},"mark":{"type":"rect","color":"white","opacity":1},"encoding":{"x":{"field":"x","type":"quantitative","axis":null},"x2":{"field":"x2"},"y":{"field":"y","type":"quantitative","axis":null},"y2":{"field":"y2"}}},
      {"data":{"name":"boxBorder"},"mark":{"type":"rule","color":"black","strokeWidth":4},"encoding":{"x":{"field":"x","type":"quantitative","axis":null},"x2":{"field":"x2"},"y":{"field":"y","type":"quantitative","axis":null},"y2":{"field":"y2"}}},
      {"data":{"name":"boxRule"},"mark":{"type":"rule","color":"black","strokeWidth":2.5},"encoding":{"x":{"field":"x","type":"quantitative","axis":null},"x2":{"field":"x2"},"y":{"field":"y","type":"quantitative","axis":null}}},
      {"data":{"name":"boxText"},"transform":[{"filter":"datum.k == 'it'"}],"mark":{"type":"text","align":"left","baseline":"alphabetic","fontSize":44,"fontStyle":"italic","font":"Liberation Sans","color":"black"},"encoding":{"x":{"field":"x","type":"quantitative","axis":null},"y":{"field":"y","type":"quantitative","axis":null},"text":{"field":"s"}}},
      {"data":{"name":"boxText"},"transform":[{"filter":"datum.k == 'sub'"}],"mark":{"type":"text","align":"left","baseline":"alphabetic","fontSize":29,"font":"Liberation Sans","color":"black"},"encoding":{"x":{"field":"x","type":"quantitative","axis":null},"y":{"field":"y","type":"quantitative","axis":null},"text":{"field":"s"}}},
      {"data":{"name":"boxText"},"transform":[{"filter":"datum.k == 'rm'"}],"mark":{"type":"text","align":"left","baseline":"alphabetic","fontSize":44,"font":"Liberation Sans","color":"black"},"encoding":{"x":{"field":"x","type":"quantitative","axis":null},"y":{"field":"y","type":"quantitative","axis":null},"text":{"field":"s"}}},
      {"data":{"name":"boxText"},"transform":[{"filter":"datum.k == 'def'"}],"mark":{"type":"text","align":"left","baseline":"alphabetic","fontSize":45,"font":"Liberation Sans","color":"black"},"encoding":{"x":{"field":"x","type":"quantitative","axis":null},"y":{"field":"y","type":"quantitative","axis":null},"text":{"field":"s"}}},
      {"data":{"name":"boxText"},"transform":[{"filter":"datum.k == 'br'"}],"mark":{"type":"text","align":"left","baseline":"alphabetic","fontSize":44,"font":"DejaVu Sans","color":"black"},"encoding":{"x":{"field":"x","type":"quantitative","axis":null},"y":{"field":"y","type":"quantitative","axis":null},"text":{"field":"s"}}},
      {"data":{"name":"boxText"},"transform":[{"filter":"datum.k == 'eq'"}],"mark":{"type":"text","align":"center","baseline":"alphabetic","fontSize":44,"font":"Liberation Sans","color":"black"},"encoding":{"x":{"field":"x","type":"quantitative","axis":null},"y":{"field":"y","type":"quantitative","axis":null},"text":{"field":"s"}}}
    ]}
   ]}
],
"columns":3,"spacing":{"row":33,"column":38},"bounds":"flush",
"resolve":{"scale":{"x":"independent","y":"independent","color":"independent","stroke":"independent"},"axis":{"x":"independent","y":"independent"},"legend":{"color":"independent"}}
}
